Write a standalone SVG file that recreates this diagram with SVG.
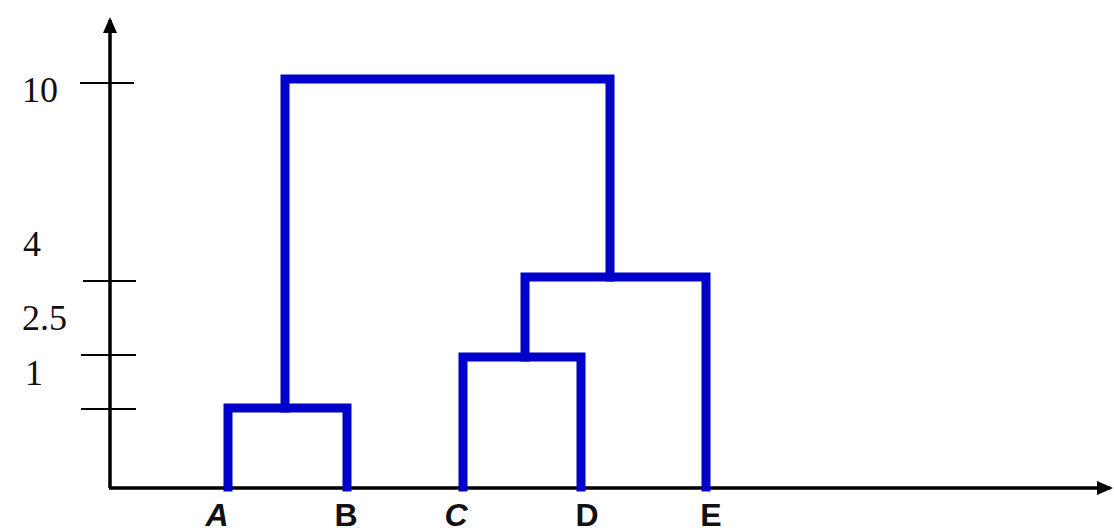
<svg xmlns="http://www.w3.org/2000/svg" width="1114" height="531" viewBox="0 0 1114 531">
<style>
.axis{stroke:#000;stroke-width:3.5;fill:none}
.tick{stroke:#000;stroke-width:2;fill:none}
.link{stroke:#0000C8;stroke-width:9;fill:none;stroke-linejoin:miter;stroke-linecap:square}
.num{font-family:"Liberation Serif",serif;font-size:36px;fill:#111}
.leaf{font-family:"Liberation Sans",sans-serif;font-size:32px;font-weight:bold;fill:#111}
</style>
<defs>
<marker id="ah" markerWidth="16" markerHeight="14" refX="13" refY="7" orient="auto" markerUnits="userSpaceOnUse">
<path d="M0,0 L16,7 L0,14 Z" fill="#000"/>
</marker>
</defs>
<rect width="1114" height="531" fill="#fff"/>
<g id="axes">
<path class="axis" d="M110,488 L110,20" marker-end="url(#ah)"/>
<path class="axis" d="M109,488 L1110,488" marker-end="url(#ah)"/>
<path class="tick" d="M80,83 L134,83 M83,281 L136,281 M81,355 L136,355 M81,409 L136,409"/>
<text class="num" x="22" y="102">10</text>
<text class="num" x="23" y="256">4</text>
<text class="num" x="22" y="330">2.5</text>
<text class="num" x="25" y="385">1</text>
</g>
<g id="connectors">
<path class="link" d="M228,487 L228,408 L347,408 L347,487"/>
<path class="link" d="M285,408 L285,79 L610,79 L610,277"/>
<path class="link" d="M463,487 L463,357 L581,357 L581,487"/>
<path class="link" d="M525,357 L525,277 L706,277 L706,487"/>
</g>
<g id="leaf-A"><text class="leaf" x="217" y="526" text-anchor="middle" font-style="italic">A</text></g>
<g id="leaf-B"><text class="leaf" x="346" y="526" text-anchor="middle">B</text></g>
<g id="leaf-C"><text class="leaf" x="456" y="526" text-anchor="middle" font-style="italic">C</text></g>
<g id="leaf-D"><text class="leaf" x="587" y="526" text-anchor="middle">D</text></g>
<g id="leaf-E"><text class="leaf" x="711" y="526" text-anchor="middle">E</text></g>
</svg>
